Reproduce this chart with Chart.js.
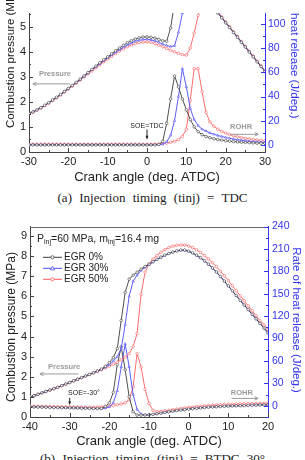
<!DOCTYPE html>
<html>
<head>
<meta charset="utf-8">
<script src="https://cdn.jsdelivr.net/npm/chart.js@4.4.0/dist/chart.umd.min.js"></script>
<style>
body { margin:0; width:305px; height:460px; overflow:hidden; background:#fff; position:relative; }
canvas { position:absolute; left:0; }
.cap { position:absolute; left:0; width:305px; text-align:center; font:13px "Liberation Serif", "Times New Roman", serif; word-spacing:4px; color:#222; white-space:nowrap; }
</style>
</head>
<body>
<canvas id="chartA" width="305" height="186" style="top:0"></canvas>
<div class="cap" style="top:190px">(a) Injection timing (tinj) = TDC</div>
<canvas id="chartB" width="305" height="235" style="top:215px"></canvas>
<div class="cap" style="top:451px">(b) Injection timing (tinj) = BTDC 30°</div>
<script>
// ---- data: (a) tinj = TDC ----
var angA = [-30,-29,-28,-27,-26,-25,-24,-23,-22,-21,-20,-19,-18,-17,-16,-15,-14,-13,-12,-11,-10,-9,-8,-7,-6,-5,-4,-3,-2,-1,
  0,1,2,3,4,5,6,7,8,9,10,11,12,13,14,15,16,17,18,19,20,21,22,23,24,25,26,27,28,29,30];
var presA0 = [1.53,1.60,1.68,1.77,1.87,1.97,2.08,2.19,2.30,2.42, 2.54,2.66,2.78,2.91,3.04,3.17,3.30,3.43,3.56,3.68,
  3.80,3.92,4.04,4.15,4.26,4.36,4.44,4.51,4.56,4.59, 4.60,4.58,4.55,4.50,4.44,4.42,4.95,5.95,6.80,7.30,
  7.50,7.50,7.30,7.00,6.60,6.30,6.00,5.77,5.55,5.36, 5.16,4.97,4.77,4.58,4.38,4.19,3.99,3.80,3.60,3.41, 3.21];
var presA30 = [1.53,1.60,1.68,1.77,1.86,1.96,2.07,2.18,2.29,2.41, 2.53,2.65,2.77,2.89,3.02,3.15,3.28,3.40,3.52,3.64,
  3.76,3.87,3.98,4.08,4.18,4.27,4.35,4.42,4.46,4.49, 4.50,4.48,4.44,4.38,4.31,4.25,4.21,4.24,4.78,5.55,
  6.40,6.90,7.00,6.90,6.65,6.35,6.05,5.78,5.56,5.37, 5.17,4.98,4.78,4.59,4.39,4.20,4.00,3.81,3.61,3.42, 3.22];
var presA50 = [1.52,1.59,1.67,1.75,1.85,1.95,2.05,2.16,2.27,2.39, 2.51,2.63,2.75,2.87,3.00,3.12,3.24,3.36,3.48,3.60,
  3.71,3.82,3.93,4.03,4.12,4.20,4.27,4.33,4.37,4.39, 4.40,4.38,4.33,4.27,4.20,4.13,4.06,4.00,3.94,3.89,
  3.87,4.15,4.75,5.45,6.00,6.20,6.10,5.85,5.60,5.39, 5.19,5.00,4.80,4.61,4.41,4.22,4.02,3.83,3.63,3.44, 3.24];
var rohrA0 = [0,0,0,0,0,0,0,0,0,0, 0,0,0,0,0,0,0,0,0,0, 0,0,0,0,0,0,0,0,0,0,
  0,0,0,0.5,3,18,38,57,48,38, 29,21,15,11,8.5,7,6,5.2,4.5,4, 3.5,3.1,2.8,2.5,2.3,2.1,1.9,1.7,1.5,1.4, 1.3];
var rohrA30 = [0.3,0.3,0.3,0.3,0.3,0.3,0.3,0.3,0.3,0.3, 0.3,0.3,0.3,0.3,0.3,0.3,0.3,0.3,0.3,0.3, 0.3,0.3,0.3,0.3,0.3,0.3,0.3,0.3,0.3,0.3,
  0.3,0.3,0.3,0.3,0.6,2.5,8,20,40,63, 48,30,21,16,13,11.5,10,8.8,7.8,7, 6.2,5.5,4.9,4.4,3.9,3.5,3.1,2.8,2.5,2.3, 2.1];
var rohrA50 = [0.6,0.6,0.6,0.6,0.6,0.6,0.6,0.6,0.6,0.6, 0.6,0.6,0.6,0.6,0.6,0.6,0.6,0.6,0.6,0.6, 0.6,0.6,0.6,0.6,0.6,0.6,0.6,0.6,0.6,0.6,
  0.6,0.6,0.7,0.8,1,1.5,2.2,3,4.5,7, 13,37,63,63,44,27,19,15.5,13,11.2, 9.8,8.6,7.6,6.8,6.1,5.5,5,4.5,4.1,3.7, 3.4];

// ---- data: (b) tinj = BTDC 30 ----
var angB = [-40,-39,-38,-37,-36,-35,-34,-33,-32,-31,-30,-29,-28,-27,-26,-25,-24,-23,-22,-21,
  -20,-19,-18,-17,-16,-15,-14,-13,-12,-11,-10,-9,-8,-7,-6,-5,-4,-3,-2,-1,
  0,1,2,3,4,5,6,7,8,9,10,11,12,13,14,15,16,17,18,19,20];
var presB0 = [1.00,1.06,1.13,1.20,1.27,1.34,1.41,1.48,1.56,1.64, 1.72,1.80,1.88,1.96,2.04,2.12,2.20,2.29,2.38,2.52,
  2.70,2.95,3.40,4.80,6.20,6.85,7.05,7.20,7.35,7.48, 7.60,7.72,7.84,7.95,8.05,8.13,8.20,8.26,8.30,8.30,
  8.25,8.16,8.05,7.92,7.77,7.60,7.41,7.21,6.99,6.76, 6.52,6.28,6.04,5.80,5.57,5.34,5.11,4.88,4.65,4.42, 4.18];
var presB30 = [1.00,1.06,1.13,1.20,1.27,1.34,1.41,1.48,1.56,1.64, 1.72,1.80,1.88,1.96,2.04,2.12,2.20,2.28,2.37,2.47,
  2.60,2.78,3.00,3.40,4.60,6.00,6.75,7.05,7.28,7.44, 7.57,7.70,7.82,7.93,8.03,8.12,8.19,8.25,8.28,8.28,
  8.23,8.14,8.03,7.90,7.75,7.58,7.40,7.20,6.98,6.75, 6.51,6.27,6.03,5.79,5.56,5.33,5.10,4.87,4.64,4.41, 4.17];
var presB50 = [1.00,1.06,1.13,1.19,1.26,1.33,1.40,1.47,1.55,1.63, 1.71,1.79,1.87,1.95,2.03,2.11,2.19,2.27,2.35,2.44,
  2.53,2.62,2.72,2.84,2.97,3.15,3.50,4.15,6.10,7.20, 7.60,7.85,8.03,8.18,8.32,8.42,8.49,8.53,8.55,8.55,
  8.50,8.42,8.31,8.18,8.03,7.86,7.67,7.47,7.25,7.02, 6.78,6.53,6.28,6.03,5.78,5.53,5.28,5.03,4.78,4.58, 4.35];
var rohrB0 = [-1.5,-1.6,-1.8,-1.9,-2.0,-2.2,-2.3,-2.4,-2.5,-2.7, -2.8,-2.9,-3.0,-3.2,-3.3,-3.4,-3.6,-3.7,-3.4,-1.0,
  4,18,55,79,48,12,-8,-12.5,-12.5,-12.3, -12,-11.4,-10.7,-9.9,-9.0,-8.1,-7.3,-6.5,-5.8,-5.1,
  -4.5,-3.9,-3.4,-2.9,-2.4,-2.0,-1.6,-1.3,-1.0,-0.7, -0.5,-0.3,-0.1,0.1,0.3,0.5,0.7,0.8,1.0,1.1, 1.3];
var rohrB30 = [-1.4,-1.5,-1.7,-1.8,-1.9,-2.1,-2.2,-2.3,-2.4,-2.6, -2.7,-2.8,-2.9,-3.1,-3.2,-3.3,-3.5,-3.6,-3.7,-3.3,
  -1.5,4,20,52,83,52,15,-5,-11,-12.3, -12,-11.4,-10.7,-9.9,-9.0,-8.1,-7.3,-6.5,-5.8,-5.1,
  -4.3,-3.7,-3.2,-2.7,-2.2,-1.8,-1.4,-1.1,-0.8,-0.5, -0.3,-0.1,0.1,0.3,0.5,0.7,0.9,1.0,1.2,1.3, 1.5];
var rohrB50 = [-0.5,-0.6,-0.7,-0.8,-0.9,-1.0,-1.1,-1.2,-1.3,-1.4, -1.5,-1.6,-1.7,-1.8,-1.9,-2.0,-2.0,-1.8,-1.5,-1.0,
  -0.5,0.5,1.5,2.5,4,8,25,70,52,22, 3,-6,-8,-7.5,-6.8,-6,-5.2,-4.4,-3.6,-2.9,
  -2.2,-1.6,-1.0,-0.5,0,0.4,0.8,1.1,1.4,1.7, 2,2.2,2.4,2.6,2.8,3,3.1,3.2,3.3,3.4, 3.5];

var seriesNames = ['EGR 0%', 'EGR 30%', 'EGR 50%'];
var seriesColors = ['#3c3c3c', '#4b4bff', '#ff5c5c'];
var seriesMarks = ['circle', 'triangle', 'circle'];
var BLUE = '#3535f0';
var FONT = '"Liberation Sans", Arial, sans-serif';

function pts(xs, ys) {
  return xs.map(function(x, i) { return {x: x, y: ys[i]}; });
}

function makeSets(xs, pres, rohr) {
  var sets = [];
  pres.forEach(function(p, i) {
    sets.push({label: seriesNames[i], data: pts(xs, p), yAxisID: 'yP'});
  });
  rohr.forEach(function(r, i) {
    sets.push({label: seriesNames[i] + ' ROHR', data: pts(xs, r), yAxisID: 'yH'});
  });
  sets.forEach(function(s, i) {
    var k = i % 3;
    s.borderColor = seriesColors[k];
    s.pointBorderColor = seriesColors[k];
    s.pointBackgroundColor = '#fff';
    s.pointStyle = seriesMarks[k];
    s.pointRadius = 1.3;
    s.pointBorderWidth = 0.6;
    s.borderWidth = 0.9;
    s.tension = 0;
  });
  return sets;
}

function tickMarks(ctx, sc, a, side, step, color) {
  ctx.strokeStyle = color;
  ctx.lineWidth = 1;
  ctx.beginPath();
  var half = step / 2;
  for (var v = Math.ceil(sc.min / half) * half; v <= sc.max + 1e-9; v += half) {
    var major = Math.abs(v / step - Math.round(v / step)) < 1e-6;
    var len = major ? 4 : 2;
    var p = Math.round(sc.getPixelForValue(v)) + 0.5;
    if (side === 'bottom') { ctx.moveTo(p, a.bottom); ctx.lineTo(p, a.bottom - len); }
    if (side === 'left') { ctx.moveTo(a.left, p); ctx.lineTo(a.left + len, p); }
    if (side === 'right') { ctx.moveTo(a.right, p); ctx.lineTo(a.right - len, p); }
  }
  ctx.stroke();
}

function arrow(ctx, x1, y1, x2, y2, color, filled) {
  var ang = Math.atan2(y2 - y1, x2 - x1), h = filled ? 3.5 : 4;
  ctx.strokeStyle = color; ctx.fillStyle = color; ctx.lineWidth = 1;
  ctx.beginPath(); ctx.moveTo(x1, y1); ctx.lineTo(x2, y2); ctx.stroke();
  ctx.beginPath();
  ctx.moveTo(x2 - h * Math.cos(ang - 0.45), y2 - h * Math.sin(ang - 0.45));
  ctx.lineTo(x2, y2);
  ctx.lineTo(x2 - h * Math.cos(ang + 0.45), y2 - h * Math.sin(ang + 0.45));
  if (filled) { ctx.closePath(); ctx.fill(); } else { ctx.stroke(); }
}

function marker(ctx, style, x, y, color) {
  ctx.strokeStyle = color; ctx.fillStyle = '#fff'; ctx.lineWidth = 0.8;
  ctx.beginPath();
  if (style === 'triangle') {
    ctx.moveTo(x, y - 2); ctx.lineTo(x + 2, y + 1.5); ctx.lineTo(x - 2, y + 1.5); ctx.closePath();
  } else {
    ctx.arc(x, y, 1.6, 0, Math.PI * 2);
  }
  ctx.fill(); ctx.stroke();
}

var decor = {
  id: 'decor',
  afterDraw: function(chart, args, o) {
    var ctx = chart.ctx, a = chart.chartArea, sx = chart.scales.x;
    var ax = {yP: chart.scales.yP, yH: chart.scales.yH};
    ctx.save();
    if (o.topLine) {
      ctx.strokeStyle = '#6a6a6a'; ctx.lineWidth = 1;
      ctx.beginPath(); ctx.moveTo(a.left, Math.round(a.top) + 0.5); ctx.lineTo(a.right, Math.round(a.top) + 0.5); ctx.stroke();
    }
    tickMarks(ctx, sx, a, 'bottom', 10, '#444');
    tickMarks(ctx, ax.yP, a, 'left', o.pStep, '#444');
    tickMarks(ctx, ax.yH, a, 'right', o.hStep, BLUE);

    o.arrows.forEach(function(r) {
      arrow(ctx, sx.getPixelForValue(r.x1), ax[r.axis].getPixelForValue(r.y1),
        sx.getPixelForValue(r.x2), ax[r.axis].getPixelForValue(r.y2), r.color, r.filled);
    });
    o.notes.forEach(function(n) {
      ctx.font = n.font; ctx.fillStyle = n.color;
      ctx.textAlign = n.align; ctx.textBaseline = 'middle';
      ctx.fillText(n.text, sx.getPixelForValue(n.x), ax[n.axis].getPixelForValue(n.y));
    });
    o.titles.forEach(function(t) {
      ctx.save();
      ctx.font = t.size + 'px ' + FONT; ctx.fillStyle = t.color;
      ctx.translate(t.x, t.y); ctx.rotate(t.rot);
      ctx.textAlign = t.align; ctx.textBaseline = 'middle';
      ctx.fillText(t.text, 0, 0);
      ctx.restore();
    });
    if (o.legend) {
      var L = o.legend;
      ctx.fillStyle = '#222'; ctx.textBaseline = 'middle'; ctx.textAlign = 'left';
      var x = L.x;
      L.head.forEach(function(part) {
        ctx.font = part[1] + 'px ' + FONT;
        ctx.fillText(part[0], x, L.y + part[2]);
        x += ctx.measureText(part[0]).width;
      });
      seriesNames.forEach(function(name, i) {
        var y = L.rowY + i * L.rowH;
        ctx.strokeStyle = seriesColors[i]; ctx.lineWidth = 1;
        ctx.beginPath(); ctx.moveTo(L.lx, y); ctx.lineTo(L.lx + 19, y); ctx.stroke();
        marker(ctx, seriesMarks[i], L.lx + 9.5, y, seriesColors[i]);
        ctx.fillStyle = '#222'; ctx.font = '10px ' + FONT;
        ctx.fillText(name, L.lx + 21, y);
      });
    }
    ctx.restore();
  }
};

function tickFont() { return {family: FONT, size: 11}; }

function makeChart(id, xs, pres, rohr, v) {
  return new Chart(document.getElementById(id).getContext('2d'), {
    type: 'line',
    data: {datasets: makeSets(xs, pres, rohr)},
    plugins: [decor],
    options: {
      responsive: false,
      animation: false,
      layout: {padding: {top: v.padTop, left: 0, right: 0, bottom: 1}},
      plugins: {legend: {display: false}, tooltip: {enabled: false}, decor: v.decor},
      scales: {
        x: {
          type: 'linear', min: xs[0], max: xs[xs.length - 1],
          ticks: {stepSize: 10, font: tickFont(), color: '#222', padding: 3, maxRotation: 0, includeBounds: false},
          grid: {display: false, drawTicks: false},
          border: {display: true, color: '#444'},
          title: {display: true, text: 'Crank angle (deg. ATDC)', font: {family: FONT, size: 13}, color: '#222', padding: 0},
          afterFit: function(s) { s.height = v.xH; }
        },
        yP: {
          position: 'left', min: 0, max: v.pMax,
          ticks: {stepSize: v.decor.pStep, font: tickFont(), color: '#222', padding: 3, includeBounds: false},
          grid: {display: false, drawTicks: false},
          border: {display: true, color: '#444'},
          afterFit: function(s) { s.width = v.lW; }
        },
        yH: {
          position: 'right', min: v.hMin, max: v.hMax,
          ticks: {stepSize: v.decor.hStep, font: {family: FONT, size: 10.5}, color: BLUE, padding: v.rPad, includeBounds: false},
          grid: {display: false, drawTicks: false},
          border: {display: true, color: BLUE},
          afterFit: function(s) { s.width = v.rW; }
        }
      }
    }
  });
}

var grayNote = 'bold 7.5px ' + FONT;
var blackNote = '7px ' + FONT;

makeChart('chartA', angA, [presA0, presA30, presA50], [rohrA0, rohrA30, rohrA50], {
  padTop: 13, xH: 33, lW: 29, rW: 40, rPad: 3, pMax: 5.55, hMin: -5.8, hMax: 109,
  decor: {
    pStep: 1, hStep: 20, topLine: false,
    titles: [
      {text: 'Combustion pressure (MPa)', x: 11, y: 128, rot: -Math.PI / 2, align: 'left', size: 11.5, color: '#222'},
      {text: 'heat release (J/deg.)', x: 294, y: 13, rot: Math.PI / 2, align: 'left', size: 11.5, color: BLUE}
    ],
    notes: [
      {text: 'Pressure', x: -23.4, y: 3.12, axis: 'yP', font: grayNote, color: '#9a9a9a', align: 'center'},
      {text: 'ROHR', x: 23.9, y: 15.1, axis: 'yH', font: grayNote, color: '#9a9a9a', align: 'center'},
      {text: 'SOE=TDC', x: 0, y: 1.04, axis: 'yP', font: blackNote, color: '#222', align: 'center'}
    ],
    arrows: [
      {x1: -19.6, y1: 2.72, x2: -29, y2: 2.72, axis: 'yP', color: '#9a9a9a', filled: false},
      {x1: 21.1, y1: 8.8, x2: 28.3, y2: 8.8, axis: 'yH', color: '#9a9a9a', filled: false},
      {x1: 0, y1: 0.9, x2: 0, y2: 0.52, axis: 'yP', color: '#222', filled: true}
    ]
  }
});

makeChart('chartB', angB, [presB0, presB30, presB50], [rohrB0, rohrB30, rohrB50], {
  padTop: 11.5, xH: 32, lW: 30, rW: 37, rPad: 4, pMax: 9.47, hMin: -15, hMax: 240,
  decor: {
    pStep: 1, hStep: 30, topLine: true,
    titles: [
      {text: 'Combustion pressure (MPa)', x: 12, y: 112, rot: -Math.PI / 2, align: 'center', size: 12, color: '#222'},
      {text: 'Rate of heat release (J/deg.)', x: 296, y: 105, rot: Math.PI / 2, align: 'center', size: 11.5, color: BLUE}
    ],
    notes: [
      {text: 'Pressure', x: -31.4, y: 2.5, axis: 'yP', font: grayNote, color: '#9a9a9a', align: 'center'},
      {text: 'ROHR', x: 13.4, y: 17.4, axis: 'yH', font: grayNote, color: '#9a9a9a', align: 'center'},
      {text: 'SOE=-30°', x: -30.4, y: 1.2, axis: 'yP', font: blackNote, color: '#222', align: 'left'}
    ],
    arrows: [
      {x1: -27.8, y1: 2.14, x2: -37.5, y2: 2.14, axis: 'yP', color: '#9a9a9a', filled: false},
      {x1: 10.8, y1: 9.9, x2: 17.5, y2: 9.9, axis: 'yH', color: '#9a9a9a', filled: false},
      {x1: -30, y1: 0.95, x2: -30, y2: 0.62, axis: 'yP', color: '#222', filled: true}
    ],
    legend: {
      x: 37, y: 24,
      head: [['P', 10.5, 0], ['inj', 7, 3], ['=60 MPa, m', 10.5, 0], ['inj', 7, 3], ['=16.4 mg', 10.5, 0]],
      lx: 43, rowY: 42.3, rowH: 11
    }
  }
});
</script>
</body>
</html>
